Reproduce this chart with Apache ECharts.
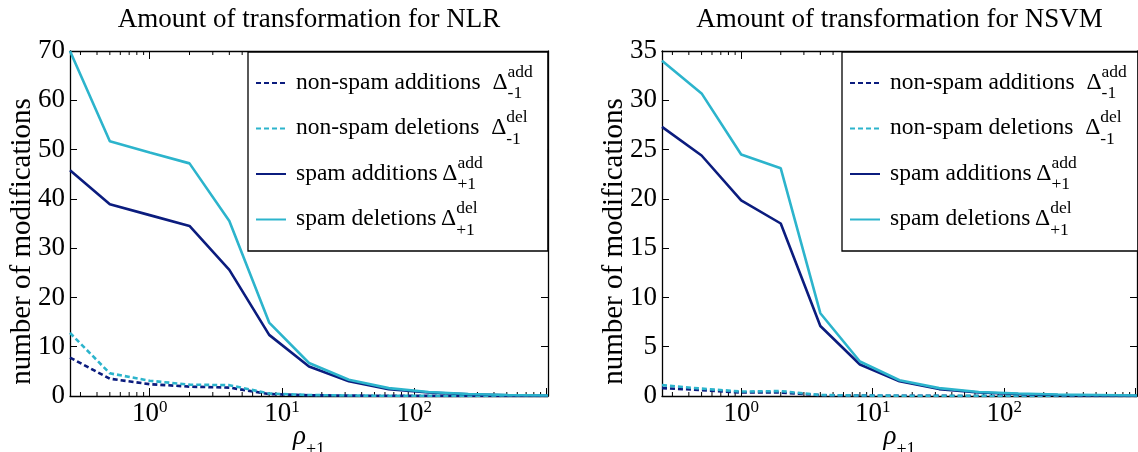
<!DOCTYPE html>
<html><head><meta charset="utf-8">
<script src="https://cdn.jsdelivr.net/npm/echarts@6/dist/echarts.min.js"></script>
<style>html,body{margin:0;padding:0;background:#fff}#c{width:1138px;height:452px}</style>
</head><body><div id="c"></div>
<script>
// ---- data ----
const rho = [0.25, 0.5, 1, 2, 4, 8, 16, 32, 64, 128, 256, 512, 1024];

const nlrNonSpamAdd = [7.8, 3.5, 2.4, 1.9, 1.7, 0.4, 0.15, 0.08, 0.04, 0.02, 0.01, 0.01, 0];
const nlrNonSpamDel = [12.8, 4.6, 3.1, 2.3, 2.2, 0.5, 0.2, 0.1, 0.05, 0.03, 0.02, 0.01, 0];
const nlrSpamAdd    = [45.8, 38.9, 36.7, 34.5, 25.6, 12.4, 6.0, 3.0, 1.4, 0.7, 0.35, 0.15, 0.05];
const nlrSpamDel    = [70.0, 51.7, 49.4, 47.2, 35.5, 14.9, 6.7, 3.3, 1.6, 0.8, 0.4, 0.2, 0.1];

const nsvmNonSpamAdd = [0.8, 0.6, 0.35, 0.35, 0.08, 0.04, 0.02, 0.01, 0, 0, 0, 0, 0];
const nsvmNonSpamDel = [1.1, 0.75, 0.45, 0.5, 0.1, 0.05, 0.03, 0.02, 0.01, 0, 0, 0, 0];
const nsvmSpamAdd    = [27.3, 24.4, 19.85, 17.5, 7.1, 3.2, 1.5, 0.7, 0.35, 0.2, 0.1, 0.05, 0.02];
const nsvmSpamDel    = [34.0, 30.7, 24.5, 23.1, 8.4, 3.5, 1.6, 0.8, 0.4, 0.25, 0.15, 0.1, 0.05];

const seriesNames = ['non-spam additions', 'non-spam deletions', 'spam additions', 'spam deletions'];
const legendSup = ['add', 'del', 'add', 'del'];
const legendSub = ['-1', '-1', '+1', '+1'];
const titles = ['Amount of transformation for NLR', 'Amount of transformation for NSVM'];
const yTicksMax = [70, 35];
const yTicksStep = [10, 5];
const yName = 'number of modifications';
const xMin = 0.25, xMax = 1024;

const panelData = [
  [nlrNonSpamAdd, nlrNonSpamDel, nlrSpamAdd, nlrSpamDel],
  [nsvmNonSpamAdd, nsvmNonSpamDel, nsvmSpamAdd, nsvmSpamDel]
];

// ---- styling ----
const NAVY = '#0b1c7e', CYAN = '#2cb4cc';
const colors = [NAVY, CYAN, NAVY, CYAN];
const dashed = [true, true, false, false];
const FONT = '"Liberation Serif", "Times New Roman", serif';
const grids = [
  {left: 70, top: 51, width: 478, height: 345},
  {left: 662, top: 51, width: 475, height: 345}
];
const legendLeft = [248, 842];
const legendPadRight = [15, 11];

const cv = document.createElement('canvas').getContext('2d');
function measure(t, size, style) {
  cv.font = (style || '') + ' ' + size + 'px ' + FONT;
  return cv.measureText(t).width;
}
const LFS = 23.5;
const mainTexts = seriesNames.map((n, i) => dashed[i] ? n + '  \u0394' : n + '\u2009\u0394');

// minor tick positions of the log axis (2..9 x 10^k)
const minorTicks = [];
for (let k = -1; k <= 3; k++) for (let m = 2; m <= 9; m++) {
  const v = m * Math.pow(10, k);
  if (v > xMin && v < xMax) minorTicks.push([v, 0]);
}

const legendRich = {
  sp: {fontFamily: FONT, fontSize: 17.5, color: '#000', lineHeight: 9},
  m: {fontFamily: FONT, fontSize: LFS, color: '#000', lineHeight: 12},
  sb: {fontFamily: FONT, fontSize: 17.5, color: '#000', lineHeight: 10}
};
seriesNames.forEach((n, i) => {
  legendRich['g' + i] = {fontFamily: FONT, fontSize: 10, width: measure(mainTexts[i], LFS), lineHeight: 9};
});

const option = {
  animation: false,
  backgroundColor: '#fff',
  title: titles.map((t, i) => {
    const cx = grids[i].left + grids[i].width / 2;
    return {
      text: t, left: cx - measure(t, 27) / 2, top: 6, padding: 0,
      textStyle: {fontFamily: FONT, fontSize: 27, fontWeight: 'normal', color: '#000'}
    };
  }),
  grid: grids.map(g => Object.assign({outerBoundsMode: 'none', containLabel: false}, g)),
  legend: legendLeft.map((lx, p) => ({
    data: seriesNames,
    orient: 'vertical',
    left: lx, top: 52,
    itemWidth: 30, itemHeight: 14, itemGap: 6,
    padding: [11, legendPadRight[p], 12, 7],
    borderColor: '#000', borderWidth: 1.3, borderRadius: 0,
    backgroundColor: '#fff',
    selectedMode: false,
    itemStyle: {opacity: 0},
    formatter: name => {
      const i = seriesNames.indexOf(name);
      return '{g' + i + '| }{sp|' + legendSup[i] + '}\n{m|' + mainTexts[i] + '}\n{g' + i + '| }{sb|' + legendSub[i] + '}';
    },
    textStyle: {
      fontFamily: FONT, fontSize: LFS, color: '#000', padding: [0, 0, 0, 5],
      rich: legendRich
    }
  })),
  xAxis: [],
  yAxis: [],
  series: []
};

const axisLineStyle = {color: '#000', width: 1.3};

grids.forEach((g, p) => {
  option.xAxis.push({
    type: 'log', logBase: 10, gridIndex: p, min: xMin, max: xMax, position: 'bottom',
    axisLine: {show: true, onZero: false, lineStyle: axisLineStyle},
    axisTick: {show: true, inside: true, length: 8, lineStyle: {color: '#000', width: 1}},
    splitLine: {show: false},
    minorTick: {show: false},
    axisLabel: {
      margin: 3, color: '#000', fontFamily: FONT,
      showMinLabel: true, showMaxLabel: true, hideOverlap: false,
      formatter: v => {
        const l = Math.log10(v), r = Math.round(l);
        if (Math.abs(l - r) > 1e-6 || r < 0 || r > 2) return '';
        return '{b|10}{s|' + r + '}';
      },
      rich: {
        b: {fontFamily: FONT, fontSize: 27, color: '#000', lineHeight: 30},
        s: {fontFamily: FONT, fontSize: 17, color: '#000', verticalAlign: 'top', lineHeight: 30}
      }
    },
    name: '{r|\u03C1}{s|+1}',
    nameLocation: 'middle', nameGap: 29, nameMoveOverlap: false,
    nameTextStyle: {
      rich: {
        r: {fontFamily: FONT, fontSize: 27, fontStyle: 'italic', color: '#000', lineHeight: 24},
        s: {fontFamily: FONT, fontSize: 18, color: '#000', verticalAlign: 'bottom', lineHeight: 24, padding: [0, 0, -10, 0]}
      }
    }
  });
  option.xAxis.push({
    type: 'log', logBase: 10, gridIndex: p, min: xMin, max: xMax, position: 'top',
    axisLine: {show: true, onZero: false, lineStyle: axisLineStyle},
    axisTick: {show: true, inside: true, length: 8, lineStyle: {color: '#000', width: 1}},
    axisLabel: {show: false}, splitLine: {show: false}
  });
  option.yAxis.push({
    type: 'value', gridIndex: p, min: 0, max: yTicksMax[p], interval: yTicksStep[p], position: 'left',
    axisLine: {show: true, onZero: false, lineStyle: axisLineStyle},
    axisTick: {show: true, inside: true, length: 7, lineStyle: {color: '#000', width: 1}},
    splitLine: {show: false},
    axisLabel: {margin: 5, color: '#000', fontFamily: FONT, fontSize: 27},
    name: yName, nameLocation: 'middle', nameGap: 33, nameMoveOverlap: false,
    nameTextStyle: {fontFamily: FONT, fontSize: 29, color: '#000', padding: [0, 36, 0, 0]}
  });
  option.yAxis.push({
    type: 'value', gridIndex: p, min: 0, max: yTicksMax[p], interval: yTicksStep[p], position: 'right',
    axisLine: {show: true, onZero: false, lineStyle: axisLineStyle},
    axisTick: {show: true, inside: true, length: 7, lineStyle: {color: '#000', width: 1}},
    splitLine: {show: false},
    axisLabel: {show: false}
  });

  option.series.push({
    type: 'custom', name: 'minor ticks ' + p, xAxisIndex: 2 * p, yAxisIndex: 2 * p,
    silent: true, clip: false, z: 1,
    data: minorTicks,
    encode: {x: 0, y: 1},
    renderItem: (params, api) => {
      const b = api.coord([api.value(0), 0]);
      const t = api.coord([api.value(0), yTicksMax[p]]);
      const st = {stroke: '#000', lineWidth: 1};
      return {type: 'group', children: [
        {type: 'line', shape: {x1: b[0], y1: b[1], x2: b[0], y2: b[1] - 4}, style: st},
        {type: 'line', shape: {x1: t[0], y1: t[1], x2: t[0], y2: t[1] + 4}, style: st}
      ]};
    }
  });

  panelData[p].forEach((arr, i) => {
    option.series.push({
      type: 'line', name: seriesNames[i], xAxisIndex: 2 * p, yAxisIndex: 2 * p,
      data: rho.map((x, k) => [x, arr[k]]),
      symbol: 'none', showSymbol: false, smooth: false, clip: true,
      color: colors[i],
      lineStyle: {color: colors[i], width: 2.6, type: dashed[i] ? [5, 3] : 'solid'},
      itemStyle: {color: colors[i]},
      z: 2 + i
    });
  });
});

const chart = echarts.init(document.getElementById('c'), null, {renderer: 'canvas'});
chart.setOption(option);
</script>
</body></html>
